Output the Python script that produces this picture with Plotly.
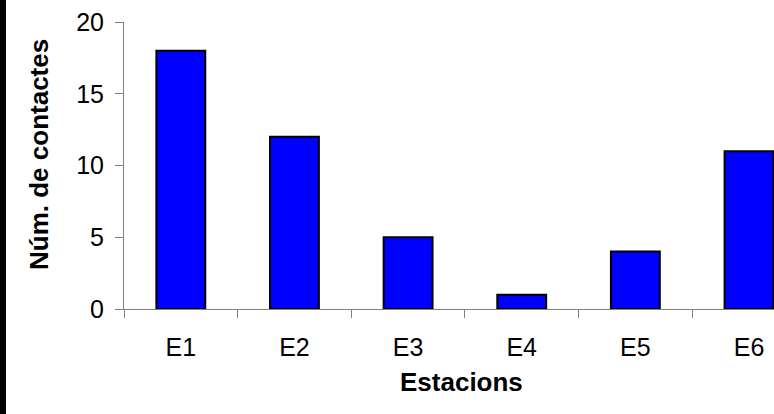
import plotly.graph_objects as go

categories = ["E1", "E2", "E3", "E4", "E5", "E6"]
contacts = [18, 12, 5, 1, 4, 11]
y_ticks = [0, 5, 10, 15, 20]
x_title = "Estacions"
y_title = "Núm. de contactes"

FONT = "Arial, Liberation Sans, sans-serif"
W, H = 774, 414
L, R, T, B = 124, 0, 22, 105
pw = W - L - R
ph = H - T - B

fig = go.Figure()
fig.add_trace(go.Bar(
    x=categories, y=contacts, width=0.43,
    marker=dict(color="#0000FF", line=dict(color="#000000", width=2)),
))

fig.update_layout(
    width=W, height=H,
    margin=dict(l=L, r=R, t=T, b=B, pad=0),
    paper_bgcolor="white", plot_bgcolor="white",
    showlegend=False,
    font=dict(family=FONT, size=25, color="black"),
    xaxis=dict(
        range=[-0.5, 5.22], showgrid=False, zeroline=False,
        showline=True, linecolor="#808080", linewidth=1,
        ticks="outside", tickson="boundaries", ticklen=8, tickcolor="#808080", tickwidth=1,
        ticklabelstandoff=16,
        tickfont=dict(family=FONT, size=25, color="black"),
    ),
    yaxis=dict(
        range=[0, 20], tickvals=y_ticks, showgrid=False, zeroline=False,
        showline=True, linecolor="#808080", linewidth=1,
        ticks="outside", ticklen=8, tickcolor="#808080", tickwidth=1,
        ticklabelstandoff=6,
        tickfont=dict(family=FONT, size=25, color="black"),
    ),
    annotations=[
        dict(text="<b>%s</b>" % x_title, xref="paper", yref="paper",
             x=(461 - L) / pw, y=(H - B - 382) / ph, xanchor="center", yanchor="middle",
             showarrow=False, font=dict(family=FONT, size=26, color="black")),
        dict(text="<b>%s</b>" % y_title, xref="paper", yref="paper", textangle=-90,
             x=(39 - L) / pw, y=(H - B - 155) / ph, xanchor="center", yanchor="middle",
             showarrow=False, font=dict(family=FONT, size=26, color="black")),
    ],
    shapes=[
        dict(type="rect", xref="paper", yref="paper",
             x0=(0 - L) / pw, x1=(6 - L) / pw, y0=(H - B - H) / ph, y1=(H - B) / ph,
             fillcolor="black", line=dict(width=0), layer="above"),
    ],
)

fig.write_html(
    "out.html",
    config={"displayModeBar": False},
    post_script="document.body.style.margin='0';document.body.style.overflow='hidden';",
)
